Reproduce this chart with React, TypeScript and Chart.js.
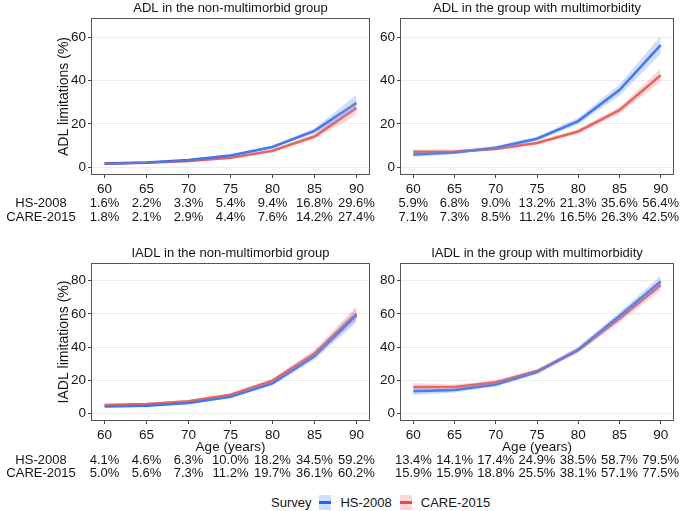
import { useEffect, useRef } from 'react';
import { Chart, registerables } from 'chart.js';

Chart.register(...registerables);

const FONT = '"Liberation Sans", Arial, Helvetica, sans-serif';

const AGES = [60, 65, 70, 75, 80, 85, 90];
const SURVEYS = ['HS-2008', 'CARE-2015'];

// ADL, non-multimorbid
const ADL_NON_HS = [1.6, 2.2, 3.3, 5.4, 9.4, 16.8, 29.6];
const ADL_NON_HS_LO = [1.2, 1.9, 3.0, 5.0, 8.8, 15.6, 26.2];
const ADL_NON_HS_HI = [2.0, 2.5, 3.6, 5.8, 10.0, 18.0, 33.5];
const ADL_NON_CARE = [1.8, 2.1, 2.9, 4.4, 7.6, 14.2, 27.4];
const ADL_NON_CARE_LO = [1.4, 1.8, 2.6, 4.0, 7.0, 13.2, 24.0];
const ADL_NON_CARE_HI = [2.2, 2.4, 3.2, 4.8, 8.2, 15.3, 31.0];

// ADL, multimorbid
const ADL_MM_HS = [5.9, 6.8, 9.0, 13.2, 21.3, 35.6, 56.4];
const ADL_MM_HS_LO = [4.8, 6.0, 8.2, 12.2, 19.8, 33.0, 52.2];
const ADL_MM_HS_HI = [7.0, 7.6, 9.8, 14.2, 22.8, 38.2, 60.6];
const ADL_MM_CARE = [7.1, 7.3, 8.5, 11.2, 16.5, 26.3, 42.5];
const ADL_MM_CARE_LO = [6.0, 6.5, 7.8, 10.4, 15.5, 24.8, 39.6];
const ADL_MM_CARE_HI = [8.2, 8.1, 9.2, 12.0, 17.5, 27.8, 45.4];

// IADL, non-multimorbid
const IADL_NON_HS = [4.1, 4.6, 6.3, 10.0, 18.2, 34.5, 59.2];
const IADL_NON_HS_LO = [3.6, 4.1, 5.7, 9.2, 16.9, 32.3, 55.0];
const IADL_NON_HS_HI = [4.6, 5.1, 6.9, 10.8, 19.5, 36.7, 63.4];
const IADL_NON_CARE = [5.0, 5.6, 7.3, 11.2, 19.7, 36.1, 60.2];
const IADL_NON_CARE_LO = [4.4, 5.0, 6.7, 10.4, 18.4, 33.8, 56.0];
const IADL_NON_CARE_HI = [5.6, 6.2, 7.9, 12.0, 21.0, 38.4, 64.4];

// IADL, multimorbid
const IADL_MM_HS = [13.4, 14.1, 17.4, 24.9, 38.5, 58.7, 79.5];
const IADL_MM_HS_LO = [11.0, 12.6, 16.2, 23.6, 36.8, 56.4, 76.0];
const IADL_MM_HS_HI = [15.8, 15.6, 18.6, 26.2, 40.2, 61.0, 83.0];
const IADL_MM_CARE = [15.9, 15.9, 18.8, 25.5, 38.1, 57.1, 77.5];
const IADL_MM_CARE_LO = [13.6, 14.4, 17.6, 24.2, 36.4, 54.8, 74.0];
const IADL_MM_CARE_HI = [18.2, 17.4, 20.0, 26.8, 39.8, 59.4, 81.0];

const ADL_TICKS = [0, 20, 40, 60];
const IADL_TICKS = [0, 20, 40, 60, 80];

const BLUE = 'rgba(24,88,240,0.92)';
const RED = 'rgba(226,60,50,0.88)';
const BLUE_BAND = 'rgba(115,160,250,0.35)';
const RED_BAND = 'rgba(245,135,135,0.33)';
const TEXT = '#151515';

type Panel = {
  key: string;
  left: number; top: number; width: number; height: number;
  area: { l: number; t: number; r: number; b: number };
  title: string;
  yTitle: string | null;
  ageTitle: boolean;
  rowLabels: boolean;
  rowsY: number[];
  ageY: number;
  yMin: number; yMax: number; yTicks: number[];
  hs: number[]; hsLo: number[]; hsHi: number[];
  care: number[]; careLo: number[]; careHi: number[];
};

const PANELS: Panel[] = [
  {
    key: 'tl', left: 0, top: 0, width: 375, height: 230,
    area: { l: 92, t: 19, r: 369, b: 174 },
    title: 'ADL in the non-multimorbid group', yTitle: 'ADL limitations (%)',
    ageTitle: false, rowLabels: true, rowsY: [203, 217], ageY: 0,
    yMin: -3.1, yMax: 68.4, yTicks: ADL_TICKS,
    hs: ADL_NON_HS, hsLo: ADL_NON_HS_LO, hsHi: ADL_NON_HS_HI,
    care: ADL_NON_CARE, careLo: ADL_NON_CARE_LO, careHi: ADL_NON_CARE_HI,
  },
  {
    key: 'tr', left: 375, top: 0, width: 310, height: 230,
    area: { l: 401, t: 19, r: 673, b: 174 },
    title: 'ADL in the group with multimorbidity', yTitle: null,
    ageTitle: false, rowLabels: false, rowsY: [203, 217], ageY: 0,
    yMin: -3.1, yMax: 68.4, yTicks: ADL_TICKS,
    hs: ADL_MM_HS, hsLo: ADL_MM_HS_LO, hsHi: ADL_MM_HS_HI,
    care: ADL_MM_CARE, careLo: ADL_MM_CARE_LO, careHi: ADL_MM_CARE_HI,
  },
  {
    key: 'bl', left: 0, top: 230, width: 375, height: 250,
    area: { l: 92, t: 264, r: 369, b: 420 },
    title: 'IADL in the non-multimorbid group', yTitle: 'IADL limitations (%)',
    ageTitle: true, rowLabels: true, rowsY: [460, 473], ageY: 447,
    yMin: -4.0, yMax: 90.1, yTicks: IADL_TICKS,
    hs: IADL_NON_HS, hsLo: IADL_NON_HS_LO, hsHi: IADL_NON_HS_HI,
    care: IADL_NON_CARE, careLo: IADL_NON_CARE_LO, careHi: IADL_NON_CARE_HI,
  },
  {
    key: 'br', left: 375, top: 230, width: 310, height: 250,
    area: { l: 401, t: 264, r: 673, b: 420 },
    title: 'IADL in the group with multimorbidity', yTitle: null,
    ageTitle: true, rowLabels: false, rowsY: [460, 473], ageY: 447,
    yMin: -4.0, yMax: 90.1, yTicks: IADL_TICKS,
    hs: IADL_MM_HS, hsLo: IADL_MM_HS_LO, hsHi: IADL_MM_HS_HI,
    care: IADL_MM_CARE, careLo: IADL_MM_CARE_LO, careHi: IADL_MM_CARE_HI,
  },
];

const pts = (vals: number[]) => AGES.map((a, i) => ({ x: a, y: vals[i] }));

const decorPlugin = {
  id: 'panelDecor',
  afterDraw(chart: any, _args: any, opts: any) {
    const p: Panel = opts.panel;
    const ctx = chart.ctx;
    const { left, top, right, bottom } = chart.chartArea;
    ctx.save();
    // panel border
    ctx.strokeStyle = '#555555';
    ctx.lineWidth = 1;
    ctx.strokeRect(left - 0.5, top - 0.5, right - left + 1, bottom - top + 1);
    ctx.fillStyle = TEXT;
    // title
    ctx.font = `13px ${FONT}`;
    ctx.textAlign = 'center';
    ctx.textBaseline = 'middle';
    ctx.fillText(p.title, (left + right) / 2, top - 11);
    // y title
    if (p.yTitle) {
      ctx.save();
      ctx.translate(64 - p.left, (top + bottom) / 2);
      ctx.rotate(-Math.PI / 2);
      ctx.font = `14px ${FONT}`;
      ctx.fillText(p.yTitle, 0, 0);
      ctx.restore();
    }
    const xs = chart.scales.x;
    if (p.ageTitle) {
      ctx.font = `13.5px ${FONT}`;
      ctx.fillText('Age (years)', (left + right) / 2, p.ageY - p.top);
    }
    // table
    ctx.font = `13px ${FONT}`;
    const rows = [p.hs, p.care];
    rows.forEach((vals, r) => {
      const y = p.rowsY[r] - p.top;
      ctx.textAlign = 'center';
      if (p.rowLabels) {
        ctx.fillText(SURVEYS[r], 41 - p.left, y);
      }
      AGES.forEach((a, i) => {
        ctx.fillText(vals[i].toFixed(1) + '%', xs.getPixelForValue(a), y);
      });
    });
    ctx.restore();
  },
};

function PanelChart({ p }: { p: Panel }) {
  const ref = useRef<HTMLCanvasElement>(null);
  useEffect(() => {
    if (!ref.current) return;
    const yW = p.area.l - p.left;
    const xH = p.top + p.height - p.area.b;
    const chart = new Chart(ref.current, {
      type: 'line',
      data: {
        datasets: [
          { data: pts(p.hsLo), borderWidth: 0, pointRadius: 0, fill: false, borderColor: 'transparent' },
          { data: pts(p.hsHi), borderWidth: 0, pointRadius: 0, fill: '-1', borderColor: 'transparent', backgroundColor: BLUE_BAND },
          { data: pts(p.careLo), borderWidth: 0, pointRadius: 0, fill: false, borderColor: 'transparent' },
          { data: pts(p.careHi), borderWidth: 0, pointRadius: 0, fill: '-1', borderColor: 'transparent', backgroundColor: RED_BAND },
          { label: SURVEYS[0], data: pts(p.hs), borderColor: BLUE, borderWidth: 2.6, pointRadius: 0, fill: false, tension: 0 },
          { label: SURVEYS[1], data: pts(p.care), borderColor: RED, borderWidth: 2.6, pointRadius: 0, fill: false, tension: 0 },
        ],
      },
      options: {
        animation: false,
        responsive: false,
        maintainAspectRatio: false,
        layout: { padding: { top: p.area.t - p.top, right: p.left + p.width - p.area.r, left: 0, bottom: 0 } },
        plugins: {
          legend: { display: false },
          tooltip: { enabled: false },
          panelDecor: { panel: p },
        } as any,
        scales: {
          x: {
            type: 'linear',
            min: 58.5,
            max: 91.5,
            afterFit: (s: any) => { s.height = xH; },
            afterBuildTicks: (s: any) => { s.ticks = AGES.map((v) => ({ value: v })); },
            grid: { drawOnChartArea: false, drawTicks: true, tickLength: 4, tickColor: '#444' },
            border: { display: false },
            ticks: { color: TEXT, font: { family: FONT, size: 13.5 }, padding: 3, maxRotation: 0, autoSkip: false },
          },
          y: {
            type: 'linear',
            min: p.yMin,
            max: p.yMax,
            afterFit: (s: any) => { s.width = yW; },
            afterBuildTicks: (s: any) => { s.ticks = p.yTicks.map((v) => ({ value: v })); },
            grid: { color: '#ececec', lineWidth: 1, drawTicks: true, tickLength: 4, tickColor: '#444' },
            border: { display: false },
            ticks: { color: TEXT, font: { family: FONT, size: 13.5 }, padding: 2, autoSkip: false },
          },
        },
      },
      plugins: [decorPlugin],
    });
    return () => chart.destroy();
  }, [p]);
  return (
    <canvas
      ref={ref}
      width={p.width}
      height={p.height}
      style={{ position: 'absolute', left: p.left, top: p.top, width: p.width, height: p.height }}
    />
  );
}

function LegendKey({ color, band }: { color: string; band: string }) {
  return (
    <span style={{ position: 'relative', display: 'inline-block', width: 12, height: 15, background: band, margin: '0 9px 0 8px' }}>
      <span style={{ position: 'absolute', left: 0, right: 0, top: 6.5, height: 2.5, background: color }} />
    </span>
  );
}

export default function App() {
  useEffect(() => {
    document.body.style.margin = '0';
  }, []);
  return (
    <div style={{ position: 'relative', width: 685, height: 511, background: '#fff', overflow: 'hidden', fontFamily: FONT }}>
      {PANELS.map((p) => (
        <PanelChart key={p.key} p={p} />
      ))}
      <div style={{ position: 'absolute', left: 271, top: 493, height: 18, display: 'flex', alignItems: 'center', fontSize: 13, color: TEXT }}>
        <span>Survey</span>
        <LegendKey color={BLUE} band={BLUE_BAND} />
        <span>{SURVEYS[0]}</span>
        <LegendKey color={RED} band={RED_BAND} />
        <span>{SURVEYS[1]}</span>
      </div>
    </div>
  );
}
